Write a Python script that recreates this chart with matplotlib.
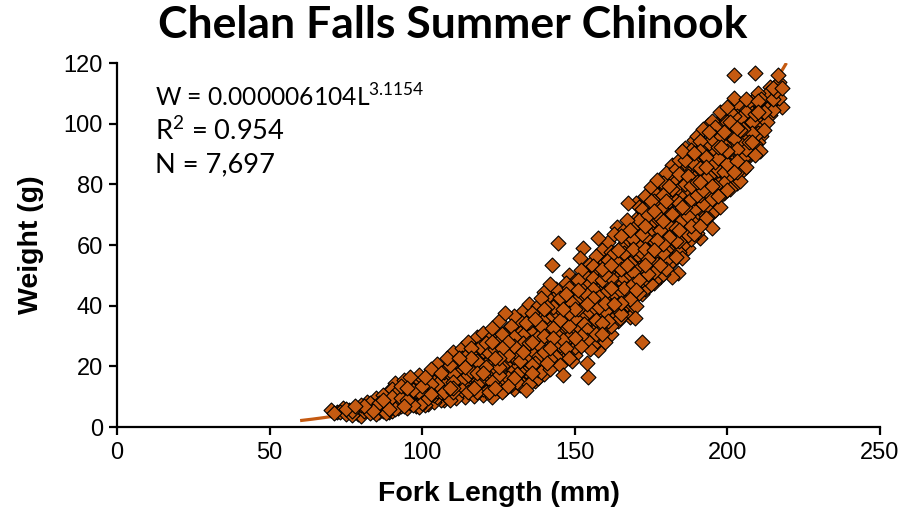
import numpy as np
import matplotlib
matplotlib.use("Agg")
import matplotlib.pyplot as plt

# trendline from the chart: W = a * L^b
coef_a = 0.000006104
coef_b = 3.1154
line_start = 60

# fork length (mm) / weight (g) in 10 mm blocks
fl_70 = [70, 71, 73, 74, 75, 76, 77, 78, 78, 79]
wt_70 = [5.6, 4.6, 5.0, 6.3, 4.4, 5.6, 3.8, 6.8, 4.8, 5.8]

fl_80 = [80, 80, 81, 82, 82, 83, 84, 84, 85, 85, 86, 86, 87, 87, 88, 88, 89, 89, 89]
wt_80 = [3.6, 7.4, 5.2, 6.2, 8.4, 4.6, 7.0, 5.4, 9.6, 4.4, 6.4, 8.0, 5.2, 10.6, 7.2, 4.6, 9.0, 6.0, 11.8]

fl_90 = [90, 90, 90, 91, 91, 92, 92, 93, 93, 94, 94, 95, 95, 95, 96, 96, 97, 97, 98, 98, 99, 99, 99]
wt_90 = [5.2, 7.6, 10.0, 14.4, 8.6, 6.2, 12.0, 9.4, 7.0, 11.0, 15.4, 6.4, 8.8, 13.0, 16.4, 10.4,
         7.4, 12.2, 9.6, 14.6, 6.6, 11.4, 17.0]

fl_100 = [100, 100, 100, 101, 101, 102, 102, 103, 103, 104, 104, 104, 105, 105, 106, 106, 107, 107,
          108, 108, 108, 109, 109, 109]
wt_100 = [8.0, 10.4, 13.6, 16.4, 7.2, 11.8, 9.4, 19.0, 14.2, 8.4, 12.6, 10.6, 16.8, 20.8, 9.0, 13.8,
          11.6, 18.2, 15.2, 22.6, 10.0, 13.0, 17.6, 8.8]

fl_110 = [110, 110, 110, 110, 111, 111, 111, 112, 112, 113, 113, 113, 114, 114, 114, 115, 115, 115,
          116, 116, 117, 117, 117, 118, 118, 118, 119, 119, 119]
wt_110 = [11.6, 15.0, 20.0, 24.8, 9.4, 13.4, 17.4, 22.6, 11.4, 15.6, 26.2, 19.4, 10.0, 13.4, 23.2,
          17.0, 20.6, 28.0, 12.0, 15.2, 24.8, 19.0, 10.2, 14.2, 21.8, 29.6, 17.2, 12.4, 26.4]

fl_120 = [120, 120, 120, 120, 121, 121, 121, 122, 122, 122, 123, 123, 123, 123, 124, 124, 124, 125,
          125, 125, 126, 126, 126, 126, 127, 127, 127, 128, 128, 128, 129, 129, 129, 129]
wt_120 = [20.2, 15.4, 31.0, 10.4, 23.6, 13.2, 27.8, 18.0, 11.6, 21.6, 9.8, 25.6, 15.0, 32.6, 19.6,
          28.8, 13.0, 22.6, 17.0, 35.0, 26.0, 11.4, 20.2, 30.6, 15.4, 24.0, 37.6, 18.6, 28.0, 13.6,
          22.0, 33.2, 16.6, 26.2]

fl_130 = [130, 130, 130, 130, 131, 131, 131, 132, 132, 132, 133, 133, 133, 133, 134, 134, 134, 135,
          135, 135, 136, 136, 136, 137, 137, 137, 138, 138, 138, 138, 139, 139, 139, 139]
wt_130 = [20.0, 29.8, 12.4, 36.6, 24.4, 17.4, 32.2, 21.8, 27.0, 14.0, 38.4, 19.2, 30.4, 24.6, 12.2,
          34.2, 22.4, 27.8, 17.2, 40.6, 31.0, 25.0, 20.4, 15.2, 35.6, 28.4, 23.0, 40.0, 32.2, 18.8,
          26.4, 37.0, 21.4, 42.4]

fl_140 = [140, 140, 140, 140, 140, 141, 141, 141, 142, 142, 142, 142.5, 142, 143, 143, 143, 144, 144,
          144, 144.5, 145, 145, 145, 145, 146, 146, 146, 146, 147, 147, 147, 148, 148, 148, 148, 149,
          149, 149, 149]
wt_140 = [30.0, 24.6, 35.2, 17.4, 44.4, 27.6, 39.6, 21.2, 32.6, 26.0, 47.2, 53.4, 19.0, 36.6, 29.4,
          42.2, 23.0, 33.8, 45.6, 60.7, 27.0, 38.8, 20.4, 31.6, 17.0, 43.0, 35.0, 25.4, 47.6, 29.6,
          40.2, 22.6, 33.4, 37.6, 50.0, 27.4, 44.2, 31.0, 21.6]

fl_150 = [150, 150, 150, 150, 150, 151, 151, 151, 151.7, 152, 152, 152, 152.7, 153, 153, 153, 154,
          154.3, 154, 154, 155, 155, 155, 155, 156, 156, 156, 157, 157, 157, 157.6, 157.6, 158, 158,
          158, 159, 159, 159, 159]
wt_150 = [36.0, 41.6, 29.4, 48.2, 23.6, 33.2, 45.2, 38.8, 55.7, 26.6, 51.8, 42.6, 59.0, 31.0, 36.6,
          47.4, 21.0, 16.5, 40.4, 28.6, 44.0, 34.4, 53.6, 25.8, 38.6, 49.0, 31.2, 42.2, 56.4, 27.6,
          62.3, 25.4, 35.8, 46.6, 51.0, 40.0, 30.8, 58.4, 44.8]

fl_160 = [160, 160, 160, 160, 160, 161, 161, 161, 162, 162, 162, 162, 163, 163, 163, 163.8, 164, 164,
          164, 164.8, 165, 165, 165, 166, 166, 166, 167, 167, 167, 167.5, 168, 168, 168, 168, 169, 169,
          169, 169.7]
wt_160 = [38.2, 47.6, 33.0, 54.4, 28.0, 42.6, 61.0, 51.0, 36.4, 45.8, 57.8, 30.6, 40.4, 49.6, 63.6,
          66.0, 35.0, 44.6, 54.0, 36.0, 59.2, 48.2, 41.0, 52.6, 64.8, 38.4, 45.6, 57.0, 68.4, 73.9,
          42.2, 50.4, 61.2, 36.4, 55.0, 47.2, 66.0, 36.0]

fl_170 = [170, 170, 170, 170, 170, 171, 171, 171, 172, 172, 172, 172, 172, 173, 173, 173, 174, 174,
          174, 174, 175, 175, 175, 176, 176, 176, 176, 177, 177, 177, 178, 178, 178, 178, 179, 179,
          179, 179]
wt_170 = [74.0, 45.2, 52.4, 60.6, 40.0, 56.4, 68.4, 48.6, 28.0, 44.0, 63.6, 71.8, 53.0, 58.8, 49.2,
          76.2, 46.0, 66.0, 55.4, 61.0, 70.2, 51.2, 79.0, 58.2, 47.6, 64.6, 74.4, 81.4, 53.8, 61.6,
          69.0, 49.6, 57.0, 77.4, 64.0, 72.8, 54.4, 60.2]

fl_180 = [180, 180, 180, 180, 180, 181, 181, 181, 182, 182, 182, 182, 183, 183, 183, 183.8, 184, 184,
          184, 185, 185, 185, 186, 186, 186, 186, 187, 187, 187, 188, 188, 188, 189, 189, 189, 189]
wt_180 = [83.7, 58.4, 66.8, 74.6, 52.0, 62.8, 79.4, 70.0, 49.5, 57.6, 86.4, 66.0, 74.4, 61.4, 81.0,
          50.8, 69.4, 88.0, 57.8, 77.0, 64.4, 91.0, 72.4, 92.0, 83.6, 60.6, 59.0, 69.6, 78.6, 87.8,
          66.4, 75.2, 82.0, 94.6, 71.4, 63.6]

fl_190 = [190, 190, 190, 190, 191, 191, 191, 192, 192, 192, 193, 193, 193, 193.7, 194, 194, 194, 195,
          195, 195, 196, 196, 196, 197, 197, 197, 197.6, 197.6, 198, 198, 198, 199, 199, 199, 199]
wt_190 = [76.6, 86.6, 68.0, 96.0, 80.8, 91.0, 62.4, 73.6, 84.6, 98.4, 77.8, 89.0, 68.8, 99.6, 93.6,
          82.6, 74.0, 65.6, 87.0, 101.0, 79.4, 91.4, 71.4, 96.0, 84.6, 76.0, 104.0, 72.5, 88.6, 99.6,
          80.4, 93.0, 84.0, 102.4, 77.0]

fl_200 = [200, 200, 200, 200, 201, 201, 201, 202, 202, 202, 202, 203, 203, 203, 204, 204, 204, 205,
          205, 205, 206, 206, 206, 207, 207, 207, 208, 208, 209, 209]
wt_200 = [86.8, 96.6, 78.0, 105.4, 91.6, 82.4, 100.6, 108.5, 116.0, 88.4, 95.0, 84.0, 102.4, 91.6,
          81.2, 97.8, 106.2, 105.5, 88.8, 94.0, 100.0, 85.6, 91.6, 107.0, 90.0, 97.4, 103.6, 93.8,
          89.7, 99.6]

fl_210 = [209, 210, 210, 210, 210.7, 211, 212, 212, 213, 213.4, 214, 215, 216.6, 217, 218]
wt_210 = [116.8, 110.0, 94.0, 97.0, 91.0, 103.8, 101.0, 107.0, 105.0, 110.0, 112.0, 108.0, 116.0,
          113.7, 105.5]

# more fish inside the band (it is nearly solid in the original)
fill_small = [(72, 4.8), (75, 6.0), (77, 5.2), (79, 4.2), (81, 6.8), (83, 7.8), (85, 6.6), (86, 5.0),
              (87, 8.8), (88, 9.6), (89, 4.8), (90, 12.6), (91, 6.0), (91, 11.0), (92, 8.4), (93, 13.6),
              (94, 6.8), (94, 9.2), (95, 11.2), (96, 7.8), (96, 13.4), (97, 9.6), (97, 15.2), (98, 7.0),
              (98, 12.0), (99, 9.0), (99, 14.4), (100, 15.8), (101, 9.6), (101, 12.4), (102, 14.4),
              (102, 7.6), (103, 10.8), (103, 16.6), (104, 14.8), (105, 9.8), (105, 12.0), (105, 14.2),
              (106, 11.4), (106, 17.8), (107, 9.0), (107, 14.6), (108, 12.4), (108, 19.6), (109, 11.0),
              (109, 15.2), (109, 20.4)]

fill_110 = [(110, 13.0), (110, 17.6), (111, 21.6), (111, 11.4), (112, 14.6), (112, 18.8), (113, 12.2),
            (113, 22.8), (114, 16.0), (114, 19.8), (115, 11.6), (115, 14.4), (116, 18.4), (116, 22.6),
            (116, 26.0), (117, 13.0), (117, 16.6), (118, 11.6), (118, 17.8), (118, 25.6), (119, 14.8),
            (119, 20.8), (119, 23.4), (120, 12.6), (120, 17.8), (120, 25.0), (121, 19.8), (121, 16.0),
            (122, 24.4), (122, 29.0), (122, 14.4), (123, 20.8), (123, 28.0), (124, 16.6), (124, 22.6),
            (124, 25.8), (125, 13.8), (125, 19.8), (125, 28.4), (126, 17.4), (126, 23.4), (127, 20.8),
            (127, 30.4), (127, 12.6), (128, 23.8), (128, 32.4), (128, 16.2), (129, 19.4), (129, 29.6),
            (129, 13.8)]

fill_130 = [(130, 16.2), (130, 23.0), (130, 26.6), (131, 14.8), (131, 20.8), (131, 28.4), (132, 18.0),
            (132, 31.0), (132, 35.0), (133, 15.8), (133, 22.0), (133, 27.8), (134, 18.6), (134, 26.4),
            (134, 30.2), (135, 14.2), (135, 21.4), (135, 24.8), (135, 34.6), (136, 17.8), (136, 28.0),
            (136, 37.6), (137, 21.0), (137, 24.8), (137, 31.6), (138, 16.0), (138, 26.2), (138, 29.8),
            (139, 18.2), (139, 24.0), (139, 33.4), (139, 30.2), (140, 20.6), (140, 27.4), (140, 32.6),
            (140, 39.0), (141, 24.0), (141, 30.4), (141, 35.8), (141, 43.0), (142, 22.4), (142, 29.2),
            (142, 38.6), (143, 25.4), (143, 32.8), (143, 39.6), (143, 20.6), (144, 27.4), (144, 30.6),
            (144, 38.0), (144, 42.0), (145, 24.0), (145, 35.4), (145, 42.4), (146, 22.0), (146, 28.6),
            (146, 31.8), (146, 39.0), (147, 26.0), (147, 33.2), (147, 36.6), (147, 43.8), (148, 25.6),
            (148, 29.8), (148, 41.4), (148, 45.8), (149, 24.2), (149, 34.4), (149, 38.0), (149, 41.0)]

fill_150 = [(150, 26.4), (150, 32.4), (150, 39.0), (150, 44.6), (151, 28.8), (151, 35.8), (151, 42.0),
            (151, 48.6), (152, 30.0), (152, 35.0), (152, 39.2), (152, 46.2), (153, 27.6), (153, 34.0),
            (153, 40.6), (153, 44.0), (153, 51.4), (154, 32.0), (154, 37.0), (154, 43.6), (154, 49.6),
            (155, 28.8), (155, 38.0), (155, 41.2), (155, 47.6), (156, 27.0), (156, 34.6), (156, 42.4),
            (156, 45.6), (156, 53.0), (157, 30.8), (157, 35.4), (157, 38.8), (157, 46.6), (157, 50.2),
            (158, 31.8), (158, 39.6), (158, 43.0), (158, 55.0), (159, 34.2), (159, 37.4), (159, 48.4),
            (159, 52.0), (160, 30.6), (160, 36.0), (160, 41.0), (160, 44.2), (160, 50.6), (161, 34.8),
            (161, 39.2), (161, 46.6), (161, 55.2), (162, 33.4), (162, 40.0), (162, 49.2), (162, 53.4),
            (163, 37.0), (163, 44.0), (163, 53.0), (163, 57.4), (164, 38.6), (164, 41.8), (164, 48.8),
            (164, 58.2), (165, 37.4), (165, 44.8), (165, 52.0), (165, 55.6), (165, 63.0), (166, 42.0),
            (166, 45.8), (166, 49.0), (166, 57.2), (167, 40.6), (167, 49.6), (167, 53.4), (167, 61.2),
            (168, 46.2), (168, 54.0), (168, 57.8), (168, 65.0), (169, 40.0), (169, 51.2), (169, 58.8),
            (169, 62.0)]

fill_170 = [(170, 48.8), (170, 56.2), (170, 64.6), (170, 68.6), (171, 44.2), (171, 52.4), (171, 60.4),
            (171, 64.4), (171, 72.4), (172, 48.4), (172, 57.4), (172, 60.0), (172, 67.6), (173, 45.4),
            (173, 53.4), (173, 62.8), (173, 66.4), (173, 70.4), (174, 50.6), (174, 58.0), (174, 69.8),
            (174, 73.4), (175, 47.0), (175, 55.0), (175, 59.0), (175, 63.4), (175, 66.8), (175, 74.6),
            (176, 51.2), (176, 55.0), (176, 61.4), (176, 68.2), (176, 71.2), (177, 49.0), (177, 57.8),
            (177, 65.4), (177, 69.0), (177, 76.4), (178, 53.4), (178, 61.0), (178, 65.0), (178, 72.8),
            (179, 50.4), (179, 57.4), (179, 67.8), (179, 76.6), (179, 80.4), (180, 55.2), (180, 62.4),
            (180, 70.6), (180, 78.8), (181, 53.8), (181, 58.4), (181, 66.2), (181, 74.4), (181, 83.0),
            (182, 54.4), (182, 61.8), (182, 70.2), (182, 74.8), (182, 78.6), (183, 56.0), (183, 65.6),
            (183, 70.0), (183, 77.6), (183, 85.2), (184, 61.4), (184, 65.0), (184, 73.8), (184, 78.4),
            (184, 83.4), (185, 55.8), (185, 60.4), (185, 68.2), (185, 72.6), (185, 81.6), (185, 86.4),
            (186, 64.4), (186, 68.6), (186, 76.4), (186, 80.0), (186, 88.0), (187, 63.4), (187, 74.4),
            (187, 82.8), (187, 86.4), (187, 90.0), (188, 62.0), (188, 70.6), (188, 79.4), (188, 83.6),
            (188, 91.4), (189, 67.4), (189, 75.6), (189, 78.6), (189, 86.6), (189, 90.4)]

fill_190 = [(190, 64.0), (190, 72.0), (190, 80.8), (190, 83.0), (190, 90.6), (191, 66.4), (191, 70.6),
            (191, 76.4), (191, 85.4), (191, 94.4), (192, 69.2), (192, 78.0), (192, 81.0), (192, 89.2),
            (192, 93.2), (193, 72.8), (193, 82.0), (193, 85.6), (193, 93.4), (194, 70.0), (194, 78.2),
            (194, 86.4), (194, 90.0), (194, 97.2), (195, 70.6), (195, 75.2), (195, 79.4), (195, 83.2),
            (195, 91.2), (195, 95.0), (196, 75.6), (196, 83.6), (196, 87.4), (196, 95.6), (196, 99.0),
            (197, 80.4), (197, 88.8), (197, 92.4), (197, 100.2), (198, 76.4), (198, 84.4), (198, 92.4),
            (198, 95.8), (199, 80.6), (199, 88.4), (199, 97.2), (200, 82.4), (200, 91.0), (200, 100.6),
            (201, 78.6), (201, 86.4), (201, 95.6), (201, 104.0), (202, 84.2), (202, 91.8), (202, 99.0),
            (202, 102.6), (203, 80.4), (203, 87.6), (203, 95.4), (203, 98.6), (203, 106.4), (204, 85.2),
            (204, 89.4), (204, 93.6), (204, 101.8), (205, 84.6), (205, 98.4), (205, 101.6), (206, 88.4),
            (206, 95.4), (206, 103.8), (206, 108.0), (207, 93.8), (207, 100.8), (207, 104.2), (208, 90.6),
            (208, 97.0), (208, 100.4), (208, 107.6), (209, 93.4), (209, 96.6), (209, 103.2), (209, 106.2),
            (210, 100.4), (210, 104.0), (210, 107.4), (211, 96.0), (211, 99.4), (211, 108.0), (212, 104.0),
            (212, 97.8), (213, 100.4), (213, 108.4), (214, 103.0), (214, 107.6), (215, 104.4),
            (215, 111.6), (216, 108.4), (216, 110.8), (217, 108.6), (218, 111.6)]

fork_length = fl_70 + fl_80 + fl_90 + fl_100 + fl_110 + fl_120 + fl_130 + fl_140 + fl_150 + fl_160 + fl_170 + fl_180 + fl_190 + fl_200 + fl_210
weight = wt_70 + wt_80 + wt_90 + wt_100 + wt_110 + wt_120 + wt_130 + wt_140 + wt_150 + wt_160 + wt_170 + wt_180 + wt_190 + wt_200 + wt_210
for block in [fill_small, fill_110, fill_130, fill_150, fill_170, fill_190]:
    fork_length += [p[0] for p in block]
    weight += [p[1] for p in block]

x_ticks = [0, 50, 100, 150, 200, 250]
y_ticks = [0, 20, 40, 60, 80, 100, 120]

orange = '#C55A11'

plt.rcParams['font.family'] = ['Liberation Sans', 'DejaVu Sans']
plt.rcParams['mathtext.fontset'] = 'custom'
plt.rcParams['mathtext.rm'] = 'Lato'

fig = plt.figure(figsize=(9.06, 5.18), dpi=100)
ax = fig.add_axes([117 / 906, 1 - 427 / 518, 763 / 906, 364 / 518])

# trendline, only up to the top of the axis
line_end = (120 / coef_a) ** (1 / coef_b)
L = np.linspace(line_start, line_end, 200)
ax.plot(L, coef_a * L ** coef_b, color=orange, lw=2.3, zorder=2, solid_capstyle='butt')

# mix the drawing order so edges overlap like the original (fixed order, no randomness)
order = np.argsort(np.array(weight) * 7.3 % 5.0)
fl_arr = np.array(fork_length)[order]
wt_arr = np.array(weight)[order]
ax.scatter(fl_arr, wt_arr, marker='D', s=58, c=orange, edgecolors='black', linewidths=0.8, zorder=3)

ax.set_xlim(0, 250)
ax.set_ylim(0, 120)
ax.set_xticks(x_ticks)
ax.set_yticks(y_ticks)
ax.spines['top'].set_visible(False)
ax.spines['right'].set_visible(False)
for s in ['left', 'bottom']:
    ax.spines[s].set_linewidth(1.6)
ax.tick_params(direction='out', length=6, width=1.6, labelsize=17)
ax.tick_params(axis='x', pad=5)
ax.tick_params(axis='y', pad=4)

ax.set_xlabel('Fork Length (mm)', fontsize=20.5, fontweight='bold', labelpad=12)
ax.set_ylabel('Weight (g)', fontsize=20.5, fontweight='bold', labelpad=14)

txt_font = ['Lato', 'DejaVu Sans']
title = fig.text(0.5, 1 - 25 / 518, 'Chelan Falls Summer Chinook', ha='center', va='center',
                 fontsize=30, fontweight='bold', family=txt_font)
eq1 = fig.text(155 / 906, 1 - 97 / 518, r'W = 0.000006104L$^{3.1154}$', ha='left', va='center',
               fontsize=16, family=txt_font)
eq2 = fig.text(155 / 906, 1 - 131 / 518, r'R$^{2}$ = 0.954', ha='left', va='center',
               fontsize=16, family=txt_font)
eq3 = fig.text(155 / 906, 1 - 165 / 518, 'N = 7,697', ha='left', va='center',
               fontsize=16, family=txt_font)


def fit_width(t, target_px):
    # scale the font so the text is as wide as in the original
    for _ in range(2):
        fig.canvas.draw()
        w = t.get_window_extent().width
        t.set_fontsize(t.get_fontsize() * target_px / w)


fit_width(title, 589)
fit_width(eq1, 270)
fit_width(eq3, 120)
eq2.set_fontsize(eq3.get_fontsize())

fig.savefig('out.png', dpi=100)
